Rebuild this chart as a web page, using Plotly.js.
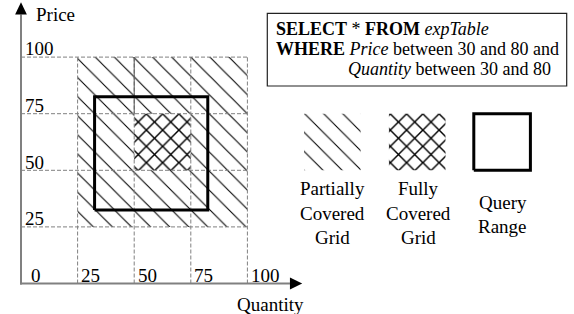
<!DOCTYPE html>
<html><head><meta charset="utf-8">
<script src="https://cdn.plot.ly/plotly-3.0.1.min.js"></script>
<style>html,body{margin:0;padding:0;background:#fff}#chart{width:574px;height:314px}</style>
</head><body><div id="chart"></div>
<script>
// ---- data ----
const gridValues = [25, 50, 75, 100];
const xTickValues = [0, 25, 50, 75, 100];
const xTickLabels = ['0', '25', '50', '75', '100'];
const yTickValues = [25, 50, 75, 100];
const yTickLabels = ['25', '50', '75', '100'];
// partially covered grid cells (Quantity x Price)
const partialX = [25, 100, 100, 25, 25];
const partialY = [25, 25, 100, 100, 25];
// fully covered grid cell
const fullX = [50, 75, 75, 50, 50];
const fullY = [50, 50, 75, 75, 50];
// query range rectangle as drawn
const queryX = [32.5, 82.5, 82.5, 32.5, 32.5];
const queryY = [32.5, 32.5, 82.5, 82.5, 32.5];
const axisTitles = ['Price', 'Quantity'];
const sqlLines = [
  '<b>SELECT</b> * <b>FROM</b> <i>expTable</i>',
  '<b>WHERE</b> <i>Price</i> between 30 and 80 and',
  '<i>Quantity</i> between 30 and 80'
];
const legendLabels = [['Partially', 'Covered', 'Grid'], ['Fully', 'Covered', 'Grid'], ['Query', 'Range']];

// ---- layout helpers (pixel -> data) ----
const S = 2.264, X0 = 21, Y0 = 283.5;
const px2x = p => (p - X0) / S;
const py2y = p => (Y0 - p) / S;
const FONT = '"Liberation Serif", "Times New Roman", serif';
const HATCH = {shape: '\\', size: 13.5, solidity: 0.08, fgcolor: '#000', bgcolor: '#fff', fillmode: 'replace'};
const CROSS = {shape: 'x', size: 11.5, solidity: 0.24, fgcolor: '#000', bgcolor: '#fff', fillmode: 'replace'};

function rect(x0, x1, y0, y1) { return {x: [x0, x1, x1, x0, x0], y: [y0, y0, y1, y1, y0]}; }

const traces = [];
traces.push({x: partialX, y: partialY, mode: 'none', fill: 'toself', fillcolor: '#fff', fillpattern: HATCH, hoverinfo: 'skip'});
traces.push({x: fullX, y: fullY, mode: 'none', fill: 'toself', fillcolor: '#fff', fillpattern: CROSS, hoverinfo: 'skip'});

// dashed grid
const gx = [], gy = [];
gridValues.forEach(v => { gx.push(v, v, null); gy.push(0, 100, null); gx.push(0, 100, null); gy.push(v, v, null); });
traces.push({x: gx, y: gy, mode: 'lines', line: {color: '#808080', width: 1, dash: '4px,2px'}, hoverinfo: 'skip'});
// the grid segment at Quantity=50 above the fully covered cell is drawn solid in the reference
traces.push({x: [gridValues[1], gridValues[1]], y: [gridValues[2], gridValues[3]], mode: 'lines', line: {color: '#555', width: 1}, hoverinfo: 'skip'});

// query range
traces.push({x: queryX, y: queryY, mode: 'lines', line: {color: '#000', width: 3}, hoverinfo: 'skip'});

// legend swatches
const lgX = [[125, 150], [162.5, 187.5], [200, 225]];
const lgY = [50, 75];
let r = rect(lgX[0][0], lgX[0][1], lgY[0], lgY[1]);
traces.push({x: r.x, y: r.y, mode: 'none', fill: 'toself', fillcolor: '#fff', fillpattern: HATCH, hoverinfo: 'skip'});
r = rect(lgX[1][0], lgX[1][1], lgY[0], lgY[1]);
traces.push({x: r.x, y: r.y, mode: 'none', fill: 'toself', fillcolor: '#fff', fillpattern: CROSS, hoverinfo: 'skip'});
r = rect(lgX[2][0], lgX[2][1], lgY[0], lgY[1]);
traces.push({x: r.x, y: r.y, mode: 'lines', line: {color: '#000', width: 3}, hoverinfo: 'skip'});

// axes with arrows
const tip = 124.2, base = 118.8, half = 2.6;
traces.push({x: [0, 0, null, px2x(20), base], y: [py2y(284.5), base, null, 0, 0], mode: 'lines', line: {color: '#808080', width: 2}, hoverinfo: 'skip'});
traces.push({x: [-half, half, 0, -half], y: [base, base, tip, base], mode: 'none', fill: 'toself', fillcolor: '#000', hoverinfo: 'skip'});
traces.push({x: [base, base, tip, base], y: [-half, half, 0, -half], mode: 'none', fill: 'toself', fillcolor: '#000', hoverinfo: 'skip'});

// ---- annotations ----
const ann = [];
function A(text, px, py, xanchor, size) {
  ann.push({text: text, x: px2x(px), y: py2y(py), xref: 'x', yref: 'y', xanchor: xanchor, yanchor: 'middle',
    showarrow: false, font: {family: FONT, size: size, color: '#000'}});
}
yTickValues.forEach((v, i) => A(yTickLabels[i], 22.5, Y0 - v * S - 8.3, 'left', 19));
xTickValues.forEach((v, i) => A(xTickLabels[i], X0 + v * S + (v === 0 ? 8 : 1.5), 275.8, 'left', 19));
A(axisTitles[0], 33.5, 14.2, 'left', 19);
A(axisTitles[1], 270, 304.3, 'center', 19);
A(sqlLines[0], 273.5, 29.3, 'left', 18);
A(sqlLines[1], 273.5, 49.2, 'left', 18);
A(sqlLines[2], 346, 69.2, 'left', 18);
const lgCx = [332.5, 418, 502.5];
const lgRows = [[188.7, 213, 237], [188.7, 213, 237], [202, 226]];
legendLabels.forEach((lines, i) => lines.forEach((t, j) => A(t, lgCx[i], lgRows[i][j], 'center', 19)));

const layout = {
  width: 574, height: 314, autosize: false,
  margin: {l: 0, r: 0, t: 0, b: 0, pad: 0},
  paper_bgcolor: '#fff', plot_bgcolor: '#fff', showlegend: false,
  xaxis: {range: [px2x(0), px2x(574)], visible: false, fixedrange: true},
  yaxis: {range: [py2y(314), py2y(0)], visible: false, fixedrange: true},
  shapes: [{type: 'rect', xref: 'x', yref: 'y', x0: px2x(267.3), x1: px2x(566.7), y0: py2y(86), y1: py2y(13.3),
    line: {color: '#222', width: 1.2}, fillcolor: 'rgba(0,0,0,0)', layer: 'above'}],
  annotations: ann
};
Plotly.newPlot('chart', traces, layout, {staticPlot: true, displayModeBar: false});
</script>
</body></html>
